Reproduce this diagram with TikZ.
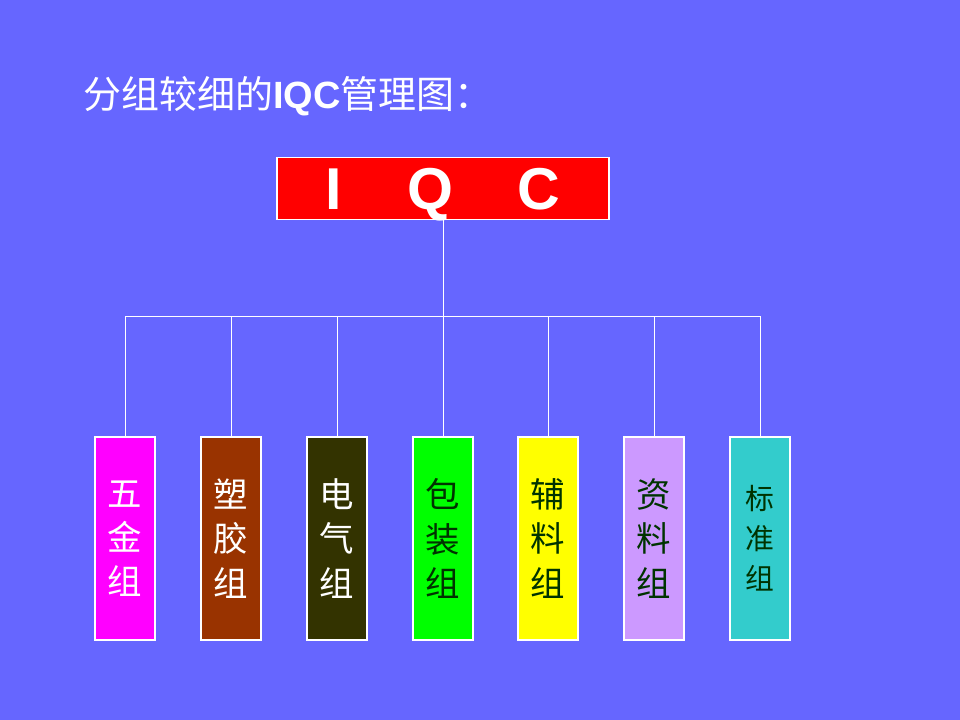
\documentclass[tikz,border=0pt]{standalone}
\usepackage{fontspec}
\setmainfont{Liberation Sans}
\newfontfamily\cjk{Noto Sans CJK SC}
\usetikzlibrary{arrows.meta}

\definecolor{slide}{HTML}{6666FF}
\definecolor{metalc}{HTML}{FF00FF}
\definecolor{plasticc}{HTML}{993300}
\definecolor{elecc}{HTML}{333300}
\definecolor{packc}{HTML}{00FF00}
\definecolor{auxc}{HTML}{FFFF00}
\definecolor{docc}{HTML}{CC99FF}
\definecolor{stdc}{HTML}{33CCCC}
\definecolor{ink}{HTML}{003300}

\begin{document}
\begin{tikzpicture}[x=0.025cm,y=-0.025cm,
    wire/.style={draw=white,line width=0.6pt},
    group/.style={draw=white,line width=1pt,minimum width=1.5cm,minimum height=5.075cm,
      inner sep=0pt,align=center,font=\cjk\fontsize{24.5}{31.5}\selectfont}]
      \fill[slide] (0,0) rectangle (960,720);
      \useasboundingbox (0,0) rectangle (960,720);
      \node [anchor=west,text=white,inner sep=0pt,font=\fontsize{27}{30}\selectfont] (title) at (83,96)
          {{\cjk 分组较细的}\textbf{IQC}{\cjk 管理图：}};
      \node [fill=red,draw=white,line width=1pt,minimum width=8.3cm,minimum height=1.55cm,inner sep=0pt,
          text height=30.5pt,text depth=0pt,text=white,font=\bfseries\fontsize{42}{42}\selectfont] (iqc) at (443,188.5)
          {\makebox[2.4cm]{I}\makebox[2.4cm]{Q}\makebox[3.05cm]{C}\hspace{0.15cm}};
      \coordinate (hub) at (443,316);
      \draw [wire] (iqc.south) -- (hub);
      \node [group,fill=metalc,text=white] (metal) at (125,538.5) {五\\金\\组};
      \node [group,fill=plasticc,text=white] (plastic) at (231,538.5) {塑\\胶\\组};
      \node [group,fill=elecc,text=white] (elec) at (337,538.5) {电\\气\\组};
      \node [group,fill=packc,text=ink] (pack) at (443,538.5) {包\\装\\组};
      \node [group,fill=auxc,text=ink] (aux) at (548,538.5) {辅\\料\\组};
      \node [group,fill=docc,text=ink] (doc) at (654,538.5) {资\\料\\组};
      \node [group,fill=stdc,text=ink,font=\cjk\fontsize{20.5}{28.5}\selectfont] (std) at (760,538.5) {标\\准\\组};
      \foreach \g in {metal,plastic,elec,pack,aux,doc,std}
          \draw [wire] (\g.north) |- (hub);
\end{tikzpicture}
\end{document}
